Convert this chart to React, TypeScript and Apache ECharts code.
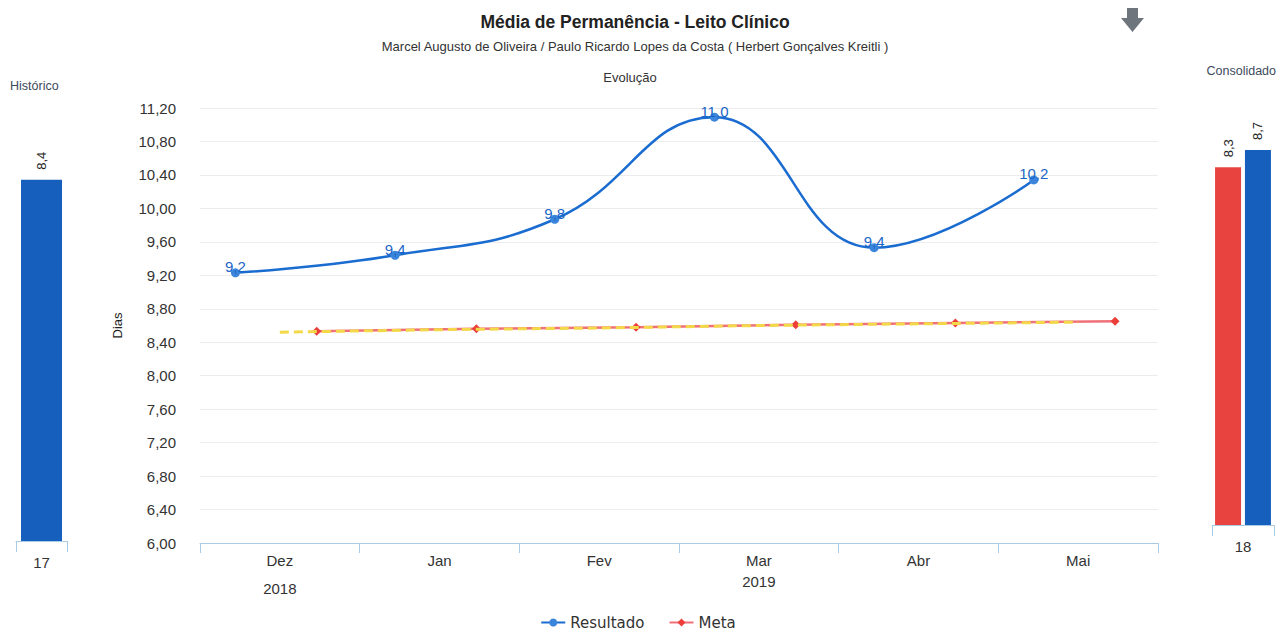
import React, { useEffect, useRef } from "react";
import * as echarts from "echarts";

const meses = ["Dez", "Jan", "Fev", "Mar", "Abr", "Mai"];
const resultado = [9.23, 9.44, 9.87, 11.09, 9.53, 10.34];
const resultadoRotulos = ["9,2", "9,4", "9,8", "11,0", "9,4", "10,2"];
const meta = [8.53, 8.56, 8.58, 8.61, 8.63, 8.65];
const tendencia = [8.52, 8.55, 8.57, 8.6, 8.62, 8.64];
const historicoCat = ["17"];
const historicoValor = [8.4];
const consolidadoCat = ["18"];
const consolidadoMeta = [8.3];
const consolidadoResultado = [8.7];
const anos = [
  { texto: "2018", mes: "Dez" },
  { texto: "2019", mes: "Mar" },
];

const FONT = "Liberation Sans, Arial, sans-serif";

export default function App() {
  const ref = useRef<HTMLDivElement>(null);

  useEffect(() => {
    document.body.style.margin = "0";
    const chart = echarts.init(ref.current!, null, { renderer: "svg" });

    const catW = (1158 - 200) / meses.length;
    const shiftRes = -44.4;
    const shiftMeta = 36.9;
    const commonY = { min: 6, max: 11.2, interval: 0.4 };

    const fmt = (v: number) => v.toFixed(2).replace(".", ",");
    const barLabel = {
      show: true,
      position: "top",
      rotate: 90,
      align: "left",
      verticalAlign: "middle",
      distance: 10,
      color: "#222",
      fontSize: 13,
      fontFamily: FONT,
      formatter: (p: any) => String(p.value).replace(".", ","),
    };
    const miniAxis = {
      axisLine: { lineStyle: { color: "#a9cbe3" } },
      axisTick: { show: true, length: 11, lineStyle: { color: "#a9cbe3" } },
      axisLabel: { color: "#333", fontSize: 15, margin: 14, fontFamily: FONT },
    };

    chart.setOption({
      animation: false,
      textStyle: { fontFamily: FONT },
      title: [
        {
          text: "Média de Permanência - Leito Clínico",
          left: 630,
          textAlign: "center",
          top: 8,
          textStyle: { fontSize: 17.5, fontWeight: "bold", color: "#222", fontFamily: FONT },
          subtext: "Marcel Augusto de Oliveira / Paulo Ricardo Lopes da Costa ( Herbert Gonçalves Kreitli )",
          subtextStyle: { fontSize: 13, color: "#333", fontFamily: FONT },
          itemGap: 9,
        },
      ],
      legend: {
        top: 610,
        left: "center",
        data: ["Resultado", "Meta"],
        itemWidth: 24,
        itemHeight: 10,
        itemGap: 24,
        textStyle: { fontSize: 15, color: "#333", fontFamily: "DejaVu Sans, sans-serif" },
      },
      graphic: [
        {
          type: "text",
          x: 630,
          y: 77,
          style: {
            text: "Evolução",
            fontSize: 13,
            fill: "#333",
            fontFamily: FONT,
            align: "center",
            verticalAlign: "middle",
          },
        },
        {
          type: "text",
          x: 10,
          y: 86,
          style: {
            text: "Histórico",
            fontSize: 12.5,
            fill: "#3d4a5c",
            fontFamily: FONT,
            verticalAlign: "middle",
          },
        },
        {
          type: "text",
          x: 1276,
          y: 71,
          style: {
            text: "Consolidado",
            fontSize: 12.5,
            fill: "#3d4a5c",
            fontFamily: FONT,
            align: "right",
            verticalAlign: "middle",
          },
        },
        ...anos.map((a, i) => ({
          type: "text",
          x: 200 + (meses.indexOf(a.mes) + 0.5) * catW,
          y: i === 0 ? 588 : 581,
          style: {
            text: a.texto,
            fontSize: 15,
            fill: "#333",
            fontFamily: FONT,
            align: "center",
            verticalAlign: "middle",
          },
        })),
        {
          type: "polygon",
          shape: {
            points: [
              [1127, 8],
              [1138, 8],
              [1138, 18],
              [1144, 18],
              [1132.5, 32],
              [1121, 18],
              [1127, 18],
            ],
          },
          style: { fill: "#6f757d" },
        },
      ],
      grid: [
        { left: 200, right: 118, top: 108, bottom: 87 },
        { left: 200 + shiftRes, right: 118 - shiftRes, top: 108, bottom: 87 },
        { left: 200 + shiftMeta, right: 118 - shiftMeta, top: 108, bottom: 87 },
        { left: 16, width: 51, top: 111, bottom: 89 },
        { left: 1212, width: 62, top: 94, bottom: 105 },
      ],
      xAxis: [
        {
          gridIndex: 0,
          type: "category",
          data: meses,
          boundaryGap: true,
          axisLine: { lineStyle: { color: "#a9cbe3" } },
          axisTick: { show: true, length: 10, lineStyle: { color: "#a9cbe3" } },
          axisLabel: { color: "#333", fontSize: 15, margin: 10, fontFamily: FONT },
        },
        { gridIndex: 1, type: "category", data: meses, show: false },
        { gridIndex: 2, type: "category", data: meses, show: false },
        { gridIndex: 3, type: "category", data: historicoCat, ...miniAxis },
        { gridIndex: 4, type: "category", data: consolidadoCat, ...miniAxis },
      ],
      yAxis: [
        {
          gridIndex: 0,
          type: "value",
          ...commonY,
          name: "Dias",
          nameLocation: "middle",
          nameGap: 76,
          nameTextStyle: { fontSize: 13, color: "#222", fontFamily: FONT },
          axisLine: { show: false },
          axisTick: { show: false },
          axisLabel: { color: "#333", fontSize: 15, margin: 24, formatter: fmt, fontFamily: FONT },
          splitLine: { lineStyle: { color: "#ececec" } },
        },
        { gridIndex: 1, type: "value", ...commonY, show: false, splitLine: { show: false } },
        { gridIndex: 2, type: "value", ...commonY, show: false, splitLine: { show: false } },
        { gridIndex: 3, type: "value", min: 0, max: 10, show: false, splitLine: { show: false } },
        { gridIndex: 4, type: "value", min: 0, max: 10, show: false, splitLine: { show: false } },
      ],
      series: [
        {
          name: "Tendência",
          type: "line",
          xAxisIndex: 0,
          yAxisIndex: 0,
          data: tendencia,
          symbol: "none",
          z: 4,
          lineStyle: { color: "#f3d94a", width: 3, type: [9, 5] },
          silent: true,
        },
        {
          name: "Meta",
          type: "line",
          xAxisIndex: 2,
          yAxisIndex: 2,
          data: meta,
          symbol: "diamond",
          symbolSize: 9,
          z: 3,
          itemStyle: { color: "#ec3f3a" },
          lineStyle: { color: "#f07078", width: 2.5 },
        },
        {
          name: "Resultado",
          type: "line",
          xAxisIndex: 1,
          yAxisIndex: 1,
          data: resultado,
          smooth: 0.45,
          symbol: "circle",
          symbolSize: 9,
          z: 5,
          itemStyle: { color: "#3b86dc" },
          lineStyle: { color: "#1a6cd0", width: 2.5 },
          label: {
            show: true,
            position: "top",
            distance: -6,
            color: "#1a66c6",
            fontSize: 15,
            fontFamily: FONT,
            formatter: (p: any) => resultadoRotulos[p.dataIndex],
          },
        },
        {
          name: "Histórico",
          type: "bar",
          xAxisIndex: 3,
          yAxisIndex: 3,
          data: historicoValor,
          barWidth: 41,
          itemStyle: { color: "#175fbd" },
          label: barLabel,
        },
        {
          name: "Consolidado Meta",
          type: "bar",
          xAxisIndex: 4,
          yAxisIndex: 4,
          data: consolidadoMeta,
          barWidth: 26,
          barGap: "15%",
          itemStyle: { color: "#e8433f" },
          label: barLabel,
        },
        {
          name: "Consolidado Resultado",
          type: "bar",
          xAxisIndex: 4,
          yAxisIndex: 4,
          data: consolidadoResultado,
          barWidth: 26,
          barGap: "15%",
          itemStyle: { color: "#175fbd" },
          label: barLabel,
        },
      ],
    });

    return () => chart.dispose();
  }, []);

  return <div ref={ref} style={{ width: 1276, height: 630 }} />;
}
